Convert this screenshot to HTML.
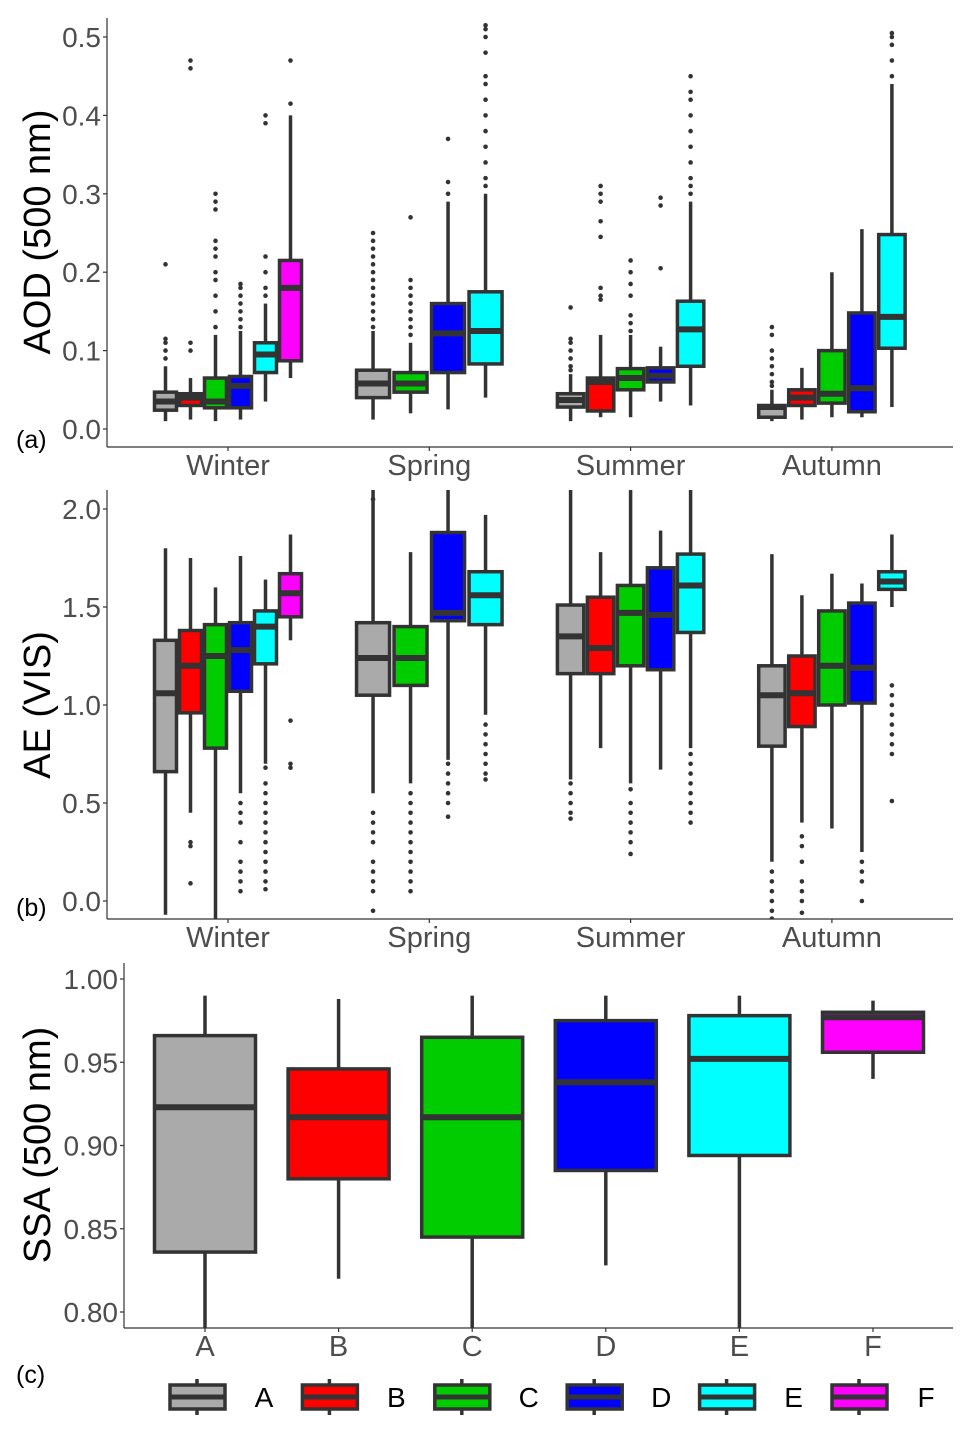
<!DOCTYPE html>
<html><head><meta charset="utf-8">
<style>
html,body{margin:0;padding:0;background:#fff;}
svg{display:block;font-family:"Liberation Sans",sans-serif;}
</style></head>
<body>
<svg id="chart" width="972" height="1434" viewBox="0 0 972 1434" xmlns="http://www.w3.org/2000/svg">
<defs>
<clipPath id="clipA"><rect x="107" y="18" width="846" height="429"/></clipPath>
<clipPath id="clipB"><rect x="107" y="490" width="846" height="429"/></clipPath>
<clipPath id="clipC"><rect x="124" y="963" width="829" height="365"/></clipPath>
</defs>
</svg>
<script>
const groups = ['A','B','C','D','E','F'];
const colors = ['#aaaaaa','#ff0000','#00cc00','#0000ff','#00ffff','#ff00ff'];
const seasons = ['Winter','Spring','Summer','Autumn'];
const seasonGroups = [['A','B','C','D','E','F'],['A','C','D','E'],['A','B','C','D','E'],['A','B','C','D','E']];

// Panel (a) AOD: per season, per group [low, q1, median, q3, high]
const aodStats = [
 [[0.01,0.024,0.035,0.047,0.08],[0.012,0.03,0.04,0.045,0.065],[0.01,0.027,0.035,0.065,0.12],[0.012,0.027,0.055,0.067,0.125],[0.035,0.072,0.095,0.11,0.16],[0.065,0.087,0.18,0.215,0.4]],
 [[0.012,0.04,0.058,0.075,0.125],[0.02,0.047,0.058,0.072,0.11],[0.025,0.072,0.122,0.16,0.29],[0.04,0.083,0.125,0.175,0.3]],
 [[0.01,0.028,0.037,0.045,0.07],[0.015,0.023,0.06,0.065,0.12],[0.015,0.05,0.065,0.077,0.12],[0.035,0.06,0.068,0.078,0.105],[0.03,0.08,0.127,0.163,0.29]],
 [[0.01,0.015,0.028,0.03,0.05],[0.012,0.03,0.04,0.05,0.078],[0.015,0.033,0.045,0.1,0.2],[0.015,0.022,0.052,0.148,0.255],[0.028,0.103,0.143,0.248,0.44]]
];
const aodOutliers = [
 [[0.09,0.1,0.11,0.115,0.21],[0.1,0.11,0.46,0.47],[0.13,0.15,0.17,0.19,0.2,0.22,0.23,0.24,0.28,0.29,0.3],[0.13,0.14,0.15,0.16,0.17,0.18,0.185],[0.17,0.18,0.2,0.22,0.39,0.4],[0.415,0.47]],
 [[0.13,0.14,0.15,0.16,0.17,0.18,0.19,0.2,0.21,0.22,0.23,0.24,0.25],[0.12,0.13,0.14,0.15,0.16,0.17,0.18,0.19,0.27],[0.3,0.315,0.37],[0.31,0.32,0.34,0.36,0.38,0.4,0.42,0.44,0.45,0.48,0.5,0.51,0.515]],
 [[0.075,0.08,0.09,0.1,0.11,0.115,0.155],[0.165,0.17,0.18,0.245,0.265,0.29,0.3,0.31],[0.125,0.135,0.145,0.17,0.185,0.2,0.215],[0.205,0.285,0.295],[0.3,0.31,0.32,0.34,0.36,0.38,0.4,0.42,0.43,0.45]],
 [[0.055,0.06,0.07,0.08,0.09,0.1,0.12,0.13],[],[],[],[0.45,0.47,0.49,0.5,0.505]]
];

// Panel (b) AE
const aeStats = [
 [[-0.07,0.66,1.06,1.33,1.8],[0.45,0.96,1.2,1.38,1.75],[-0.1,0.78,1.25,1.41,1.6],[0.55,1.07,1.28,1.42,1.76],[0.7,1.21,1.4,1.48,1.64],[1.33,1.45,1.57,1.67,1.87]],
 [[0.55,1.05,1.24,1.42,2.1],[0.6,1.1,1.24,1.4,1.78],[0.72,1.43,1.47,1.88,2.1],[0.95,1.41,1.56,1.68,1.97]],
 [[0.62,1.16,1.35,1.51,2.1],[0.78,1.16,1.29,1.55,1.78],[0.6,1.2,1.47,1.61,2.1],[0.67,1.18,1.46,1.7,1.89],[0.78,1.37,1.61,1.77,2.1]],
 [[0.2,0.79,1.05,1.2,1.77],[0.4,0.89,1.06,1.25,1.56],[0.37,1.0,1.2,1.48,1.67],[0.25,1.01,1.19,1.52,1.62],[1.5,1.59,1.63,1.68,1.87]]
];
const aeOutliers = [
 [[],[0.3,0.28,0.09],[],[0.5,0.45,0.4,0.3,0.2,0.15,0.1,0.05],[0.68,0.6,0.55,0.5,0.45,0.4,0.35,0.3,0.25,0.2,0.15,0.1,0.06],[0.92,0.7,0.68]],
 [[0.45,0.4,0.35,0.3,0.2,0.15,0.1,0.05,-0.05,2.05],[0.55,0.5,0.45,0.4,0.35,0.3,0.25,0.2,0.15,0.1,0.05],[0.7,0.65,0.6,0.55,0.5,0.43],[0.9,0.85,0.8,0.75,0.7,0.65,0.62]],
 [[0.6,0.55,0.5,0.45,0.42],[],[0.57,0.5,0.45,0.4,0.35,0.3,0.24],[],[0.75,0.7,0.65,0.6,0.55,0.5,0.45,0.4]],
 [[0.15,0.1,0.05,0.0,-0.05,-0.09],[0.33,0.28,0.2,0.1,0.05,0.0,-0.06],[],[0.2,0.15,0.1,0.0],[1.1,1.05,1.0,0.95,0.9,0.85,0.8,0.75,0.51]]
];

// Panel (c) SSA: [low, q1, median, q3, high]
const ssaStats = [[0.79,0.836,0.923,0.966,0.99],[0.82,0.88,0.917,0.946,0.988],[0.79,0.845,0.917,0.965,0.99],[0.828,0.885,0.938,0.975,0.99],[0.79,0.894,0.952,0.978,0.99],[0.94,0.956,0.977,0.98,0.987]];

const aodTicks = [0.0,0.1,0.2,0.3,0.4,0.5];
const aeTicks = [0.0,0.5,1.0,1.5,2.0];
const ssaTicks = [0.80,0.85,0.90,0.95,1.00];

const svg = document.getElementById('chart');
const NS = 'http://www.w3.org/2000/svg';
function mk(tag, attrs, parent){
  const e = document.createElementNS(NS, tag);
  for (const k in attrs) e.setAttribute(k, attrs[k]);
  (parent||svg).appendChild(e);
  return e;
}
const yA = v => 429 - v*784;
const yB = v => 901 - v*196;
const yC = v => 1312 - (v-0.8)*1665;
const xSeason = i => 228 + i*201.3;
const xGroupC = i => 205 + i*133.6;
const LINE = '#333333';

function drawBox(g, cx, w, s, yf, col, outs, name){
  const grp = mk('g', {});
  
  
  g.appendChild(grp);
  mk('line', {x1:cx, x2:cx, y1:yf(s[0]), y2:yf(s[1]), stroke:LINE, 'stroke-width':3.5}, grp);
  mk('line', {x1:cx, x2:cx, y1:yf(s[3]), y2:yf(s[4]), stroke:LINE, 'stroke-width':3.5}, grp);
  mk('rect', {x:cx-w/2, y:yf(s[3]), width:w, height:yf(s[1])-yf(s[3]), fill:col, stroke:LINE, 'stroke-width':3.5}, grp);
  mk('line', {x1:cx-w/2, x2:cx+w/2, y1:yf(s[2]), y2:yf(s[2]), stroke:LINE, 'stroke-width':6}, grp);
  (outs||[]).forEach(v => {
    const c = mk('circle', {cx:cx, cy:yf(v), r:2.3, fill:LINE}, grp);
    
    
  });
}

function axes(x0, y0, x1, y1, ticks, yf, fmt, panel){
  const g = mk('g', {});
  
  
  mk('line', {x1:x0, x2:x0, y1:y0, y2:y1, stroke:LINE, 'stroke-width':1.2}, g);
  mk('line', {x1:x0, x2:x1, y1:y1, y2:y1, stroke:LINE, 'stroke-width':1.2}, g);
  ticks.forEach(t => {
    mk('line', {x1:x0-4, x2:x0, y1:yf(t), y2:yf(t), stroke:LINE, 'stroke-width':1.2}, g);
    const tx = mk('text', {x:x0-6, y:yf(t)+10, 'text-anchor':'end', 'font-size':28, fill:'#4d4d4d'}, g);
    tx.textContent = fmt(t);
    
    
  });
  return g;
}

axes(107, 18, 953, 447, aodTicks, yA, t=>t.toFixed(1), 'aod');
axes(107, 490, 953, 919, aeTicks, yB, t=>t.toFixed(1), 'ae');
axes(124, 963, 953, 1328, ssaTicks, yC, t=>t.toFixed(2), 'ssa');

function seasonPanel(stats, outs, yf, clip, bottom, name){
  const g = mk('g', {'clip-path':'url(#'+clip+')'});
  
  
  seasons.forEach((s, si) => {
    const gs = seasonGroups[si];
    const totalW = 150, w = totalW/gs.length;
    gs.forEach((gname, gi) => {
      const cx = xSeason(si) - totalW/2 + (gi+0.5)*w;
      drawBox(g, cx, w*0.88, stats[si][gi], yf, colors[groups.indexOf(gname)], outs[si][gi], name+'-box-'+s.toLowerCase()+'-'+gname.toLowerCase());
    });
    mk('line', {x1:xSeason(si), x2:xSeason(si), y1:bottom, y2:bottom+4, stroke:LINE, 'stroke-width':1.2});
    const t = mk('text', {x:xSeason(si), y:bottom+28, 'text-anchor':'middle', 'font-size':29, fill:'#4d4d4d'});
    t.textContent = s;
    
    
  });
}
seasonPanel(aodStats, aodOutliers, yA, 'clipA', 447, 'aod');
seasonPanel(aeStats, aeOutliers, yB, 'clipB', 919, 'ae');

const gc = mk('g', {'clip-path':'url(#clipC)'});


ssaStats.forEach((s, i) => {
  drawBox(gc, xGroupC(i), 101, s, yC, colors[i], [], 'ssa-box-'+groups[i].toLowerCase());
  mk('line', {x1:xGroupC(i), x2:xGroupC(i), y1:1328, y2:1332, stroke:LINE, 'stroke-width':1.2});
  const t = mk('text', {x:xGroupC(i), y:1356, 'text-anchor':'middle', 'font-size':29, fill:'#4d4d4d'});
  t.textContent = groups[i];
  
  
});

function title(txt, x, y, name){
  const t = mk('text', {x:x, y:y, 'text-anchor':'middle', 'font-size':38, fill:'#000', transform:'rotate(-90 '+x+' '+y+')'});
  t.textContent = txt;
  
  
}
title('AOD (500 nm)', 50, 232, 'aod-y-axis-title');
title('AE (VIS)', 50, 705, 'ae-y-axis-title');
title('SSA (500 nm)', 50, 1145, 'ssa-y-axis-title');
[['(a)',16,448],['(b)',16,916],['(c)',16,1383]].forEach(p => {
  const t = mk('text', {x:p[1], y:p[2], 'font-size':25, fill:'#000'});
  t.textContent = p[0];
  
  
});

groups.forEach((gname, i) => {
  const kx = 170 + i*132.4;
  const lg = mk('g', {});
  
  
  mk('line', {x1:kx+27, x2:kx+27, y1:1379, y2:1415, stroke:LINE, 'stroke-width':3.5}, lg);
  mk('rect', {x:kx, y:1385, width:55, height:24, fill:colors[i], stroke:LINE, 'stroke-width':3.5}, lg);
  mk('line', {x1:kx, x2:kx+55, y1:1397, y2:1397, stroke:LINE, 'stroke-width':5}, lg);
  const t = mk('text', {x:kx+94, y:1407, 'text-anchor':'middle', 'font-size':28, fill:'#000'}, lg);
  t.textContent = gname;
});
</script>
</body></html>
